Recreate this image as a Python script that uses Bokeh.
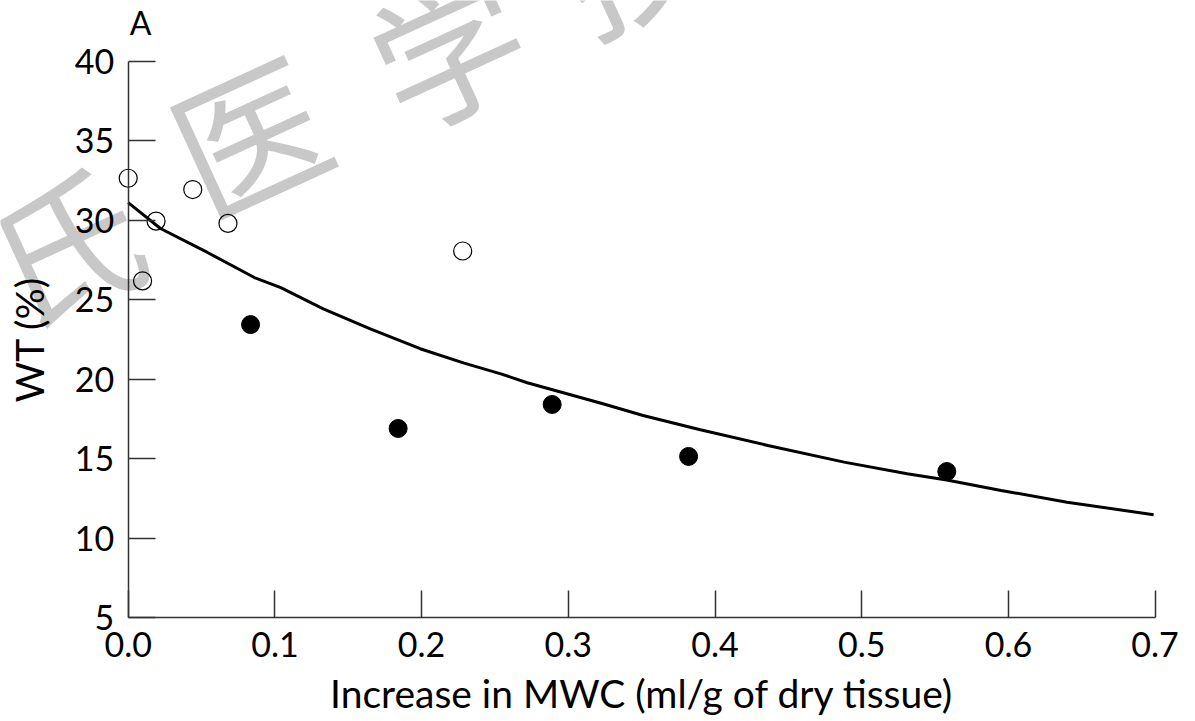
from bokeh.plotting import figure
from bokeh.models import Range1d, FixedTicker, Label
from bokeh.embed import file_html
from bokeh.resources import INLINE

# ---- data ----
open_x = [0.0, 0.0098, 0.019, 0.044, 0.068, 0.228]
open_y = [32.65, 26.19, 29.95, 31.94, 29.81, 28.07]

filled_x = [0.0834, 0.184, 0.289, 0.382, 0.558]
filled_y = [23.44, 16.90, 18.41, 15.14, 14.19]

curve_x = [0.0, 0.022, 0.054, 0.086, 0.104, 0.133, 0.165, 0.199, 0.229,
           0.254, 0.272, 0.323, 0.351, 0.390, 0.436, 0.488, 0.531, 0.558,
           0.595, 0.640, 0.699]
curve_y = [31.12, 29.49, 27.98, 26.40, 25.76, 24.43, 23.17, 21.92, 21.01,
           20.34, 19.78, 18.47, 17.72, 16.82, 15.83, 14.78, 14.05, 13.65,
           13.00, 12.26, 11.47]

x_ticks = [0.0, 0.1, 0.2, 0.3, 0.4, 0.5, 0.6, 0.7]
x_tick_labels = ["0.0", "0.1", "0.2", "0.3", "0.4", "0.5", "0.6", "0.7"]
y_ticks = [5, 10, 15, 20, 25, 30, 35, 40]
x_bounds = (0.0, 0.7)
y_bounds = (5, 40)

x_title = "Increase in MWC (ml/g of dry tissue)"
y_title = "WT (%)"
panel_label = "A"

watermark_chars = ["氏", "医", "学", "技"]
watermark_x = [-0.0448, 0.081, 0.2163, 0.342]
watermark_y = [28.73, 35.7, 41.1, 47.1]

FONT = "Lato"

# canvas geometry: x=0 at 127.7px, 1467 px per unit; y=40 at 61px, 15.886 px per unit
W, H = 1195, 721
X0_PX, X_SCALE = 127.7, 1467.0
Y40_PX, Y_SCALE = 61.0, 15.886
x_range = Range1d(-X0_PX / X_SCALE, (W - X0_PX) / X_SCALE)
y_range = Range1d(40 - (H - Y40_PX) / Y_SCALE, 40 + Y40_PX / Y_SCALE)

p = figure(width=W, height=H, output_backend="svg", toolbar_location=None,
           x_range=x_range, y_range=y_range, min_border=0)
p.outline_line_color = None
p.grid.visible = False
p.background_fill_color = "white"
p.border_fill_color = "white"

# watermark
for ch, wx, wy in zip(watermark_chars, watermark_x, watermark_y):
    p.add_layout(Label(x=wx, y=wy, text=ch, angle=0.43, text_align="center",
                       text_baseline="middle", text_font="Noto Sans CJK SC",
                       text_font_size="150px", text_color="#c8c8c8",
                       level="underlay"))

p.line(curve_x, curve_y, line_color="black", line_width=3)
p.scatter(open_x, open_y, marker="circle", size=18, fill_color=None,
          line_color="black", line_width=1.2)
p.scatter(filled_x, filled_y, marker="circle", size=18, fill_color="black",
          line_color="black")

for ax in (p.xaxis[0], p.yaxis[0]):
    ax.major_tick_in = 27
    ax.major_tick_out = 0
    ax.minor_tick_line_color = None
    ax.axis_line_color = "#333333"
    ax.axis_line_width = 1.5
    ax.major_tick_line_color = "#333333"
    ax.major_tick_line_width = 1.5
    ax.major_label_text_font = FONT
    ax.major_label_text_font_size = "34px"
    ax.major_label_text_color = "black"
    ax.axis_label_text_font = FONT
    ax.axis_label_text_font_size = "39px"
    ax.axis_label_text_font_style = "normal"
    ax.axis_label_text_color = "black"

p.xaxis.fixed_location = y_bounds[0]
p.xaxis.bounds = x_bounds
p.xaxis.ticker = FixedTicker(ticks=x_ticks)
p.xaxis.major_label_overrides = {t: s for t, s in zip(x_ticks, x_tick_labels)}
p.xaxis.major_label_standoff = 14
p.xaxis.axis_label = x_title
p.xaxis.axis_label_standoff = 10

p.yaxis.fixed_location = x_bounds[0]
p.yaxis.bounds = y_bounds
p.yaxis.ticker = FixedTicker(ticks=y_ticks)
p.yaxis.major_label_standoff = 14
p.yaxis.axis_label = y_title
p.yaxis.axis_label_standoff = 20

p.add_layout(Label(x=0.0085, y=42.45, text=panel_label, text_align="center",
                   text_baseline="middle", text_font=FONT,
                   text_font_size="32px", text_color="black"))

open("out.html", "w").write(file_html(p, INLINE))
